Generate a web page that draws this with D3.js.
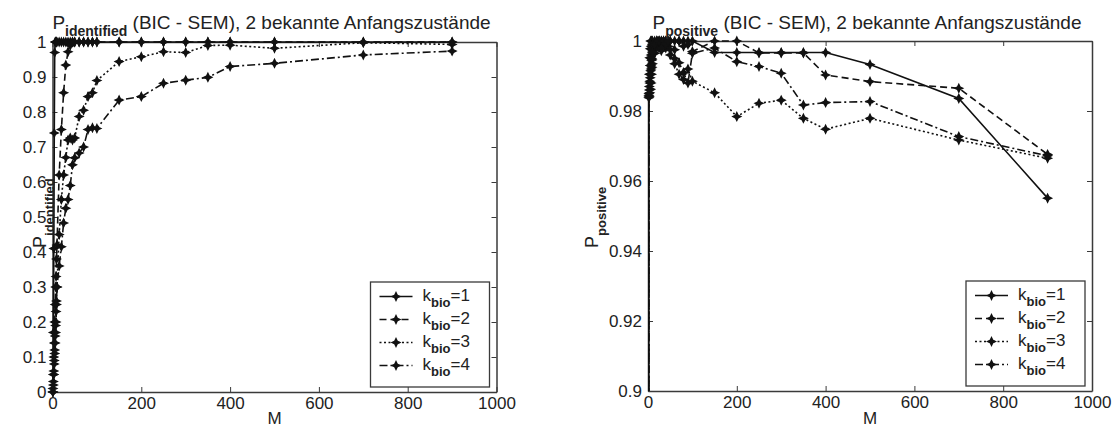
<!DOCTYPE html>
<html>
<head>
<meta charset="utf-8">
<script src="https://cdn.jsdelivr.net/npm/d3@7"></script>
<style>
  html, body { margin: 0; padding: 0; background: #fff; }
  svg { display: block; font-family: "Liberation Sans", Arial, Helvetica, sans-serif; }
  .axis path, .axis line { stroke: #3a3a3a; }
  .axis text { fill: #222; font-size: 17px; }
</style>
</head>
<body>
<svg id="chart" width="1114" height="432"></svg>
<script>
// Number of sequences M
const M = [1, 2, 3, 4, 5, 6, 7, 8, 9, 10, 15, 20, 25, 30, 35, 40, 45, 50,
           60, 70, 80, 90, 100, 150, 200, 250, 300, 350, 400, 500, 700, 900];

// P_identified per k_bio
const identK1 = [0, 0.17, 0.41, 0.74, 0.97, 1, 1, 1, 1, 1,
                 1, 1, 1, 1, 1, 1, 1, 1,
                 1, 1, 1, 1, 1,
                 1, 1, 1, 1, 1, 1, 1, 1, 1];
const identK2 = [0.01, 0.05, 0.10, 0.14, 0.20, 0.25, 0.30, 0.33, 0.38, 0.42,
                 0.62, 0.75, 0.855, 0.934, 0.972, 0.99, 1, 1,
                 1, 1, 1, 1, 1,
                 1, 1, 1, 1, 1, 1, 1, 1, 1];
const identK3 = [0, 0.03, 0.06, 0.09, 0.12, 0.16, 0.19, 0.23, 0.26, 0.30,
                 0.45, 0.55, 0.62, 0.67, 0.72, 0.726, 0.72, 0.726,
                 0.787, 0.805, 0.844, 0.855, 0.89,
                 0.944, 0.958, 0.972, 0.97, 0.99, 0.991, 0.982, 0.998, 0.993];
const identK4 = [0, 0.02, 0.05, 0.08, 0.11, 0.14, 0.17, 0.20, 0.25, 0.30,
                 0.36, 0.415, 0.483, 0.525, 0.55, 0.59, 0.649, 0.669,
                 0.683, 0.70, 0.75, 0.755, 0.753,
                 0.834, 0.844, 0.882, 0.891, 0.899, 0.93, 0.939, 0.963, 0.974];

// P_positive per k_bio
const posK1 = [0, 0.9845, 0.9905, 0.9952, 0.9978, 1, 0.9985, 1, 1, 1,
               1, 1, 1, 1, 1, 1, 1, 1,
               1, 1, 1, 1, 1,
               0.9967, 0.9967, 0.9967, 0.9967, 0.9967, 0.9967, 0.9933, 0.9836, 0.9551];
const posK2 = [0, 0.9840, 0.9870, 0.9885, 0.9930, 0.9915, 0.9960, 0.9945, 0.9975, 0.9990,
               0.9965, 1, 0.9985, 1, 1, 0.9980, 1, 1,
               0.9975, 1, 0.9985, 0.9990, 0.9970,
               1, 1, 0.9966, 0.9966, 0.9966, 0.9903, 0.9884, 0.9865, 0.9676];
const posK3 = [0, 0.9850, 0.9842, 0.9880, 0.9895, 0.9862, 0.9920, 0.9905, 0.9948, 0.9935,
               0.9965, 0.9982, 1, 0.9972, 0.9990, 1, 0.9985, 0.9960,
               0.9935, 0.9905, 0.9890, 0.9920, 0.9885,
               0.9852, 0.9784, 0.9822, 0.9831, 0.9779, 0.9748, 0.9779, 0.9717, 0.9665];
const posK4 = [0, 0.9838, 0.9860, 0.9852, 0.9905, 0.9930, 0.9880, 0.9950, 0.9925, 0.9968,
               0.9990, 1, 1, 0.9980, 1, 0.9992, 1, 0.9975,
               0.9950, 0.9938, 0.9910, 0.9880, 0.9965,
               0.9980, 0.9941, 0.9927, 0.9908, 0.9817, 0.9824, 0.9827, 0.9727, 0.9672];

const xTicks = [0, 200, 400, 600, 800, 1000];
const yTicksIdent = [0, 0.1, 0.2, 0.3, 0.4, 0.5, 0.6, 0.7, 0.8, 0.9, 1];
const yTicksPos = [0.9, 0.92, 0.94, 0.96, 0.98, 1];
const kLabels = ["1", "2", "3", "4"];
const dashes = [null, "7,4", "2,2.5", "8,3,2,3"];

const svg = d3.select("#chart");
const star = "M0,-5.5L1.8,-1.8L5.5,0L1.8,1.8L0,5.5L-1.8,1.8L-5.5,0L-1.8,-1.8Z";

function panel(cfg) {
  const { id, left, right, top, bottom, yDomain, yTicks, yFmt, series, sub, clipBottom } = cfg;
  const x = d3.scaleLinear().domain([0, 1000]).range([left, right]);
  const y = d3.scaleLinear().domain(yDomain).range([bottom, top]);
  const g = svg.append("g");

  // box axes with inward ticks
  g.append("g").attr("class", "axis").attr("transform", `translate(0,${bottom})`)
    .call(d3.axisBottom(x).tickValues(xTicks).tickSize(-5).tickSizeOuter(0).tickPadding(5)
      .tickFormat(d3.format("d")));
  g.append("g").attr("class", "axis").attr("transform", `translate(0,${top})`)
    .call(d3.axisTop(x).tickValues(xTicks).tickSize(-5).tickSizeOuter(0).tickFormat(""));
  g.append("g").attr("class", "axis").attr("transform", `translate(${left},0)`)
    .call(d3.axisLeft(y).tickValues(yTicks).tickSize(-5).tickSizeOuter(0).tickPadding(6)
      .tickFormat(yFmt));
  g.append("g").attr("class", "axis").attr("transform", `translate(${right},0)`)
    .call(d3.axisRight(y).tickValues(yTicks).tickSize(-5).tickSizeOuter(0).tickFormat(""));
  g.selectAll(".axis .domain").attr("stroke-width", 1.5);
  g.selectAll(".axis text").style("font-size", "17px");

  // clipping region for the curves
  svg.append("clipPath").attr("id", "clip" + id).append("rect")
    .attr("x", left - 7).attr("y", top - 7)
    .attr("width", right - left + 14).attr("height", clipBottom - top + 7);

  const plot = g.append("g").attr("clip-path", `url(#clip${id})`);
  const line = d3.line().x((d, i) => x(M[i])).y(d => y(d));
  series.forEach((vals, k) => {
    plot.append("path").datum(vals).attr("d", line)
      .attr("fill", "none").attr("stroke", "#111").attr("stroke-width", 1.6)
      .attr("stroke-dasharray", dashes[k]);
    plot.selectAll(null).data(vals).enter().append("path")
      .attr("d", star)
      .attr("transform", (d, i) => `translate(${x(M[i])},${y(d)})`)
      .attr("fill", "#111");
  });

  // title
  const cx = (left + right) / 2;
  const t = g.append("text").attr("x", cx - 3).attr("y", 28.5).attr("text-anchor", "middle")
    .attr("fill", "#222").style("font-size", "19px");
  t.append("tspan").text("P");
  t.append("tspan").attr("dy", 7).style("font-size", "14px").style("font-weight", "bold").text(sub);
  t.append("tspan").attr("dy", -7).text(" (BIC - SEM), 2 bekannte Anfangszustände");

  // y label
  const yl = g.append("text")
    .attr("transform", `translate(${cfg.ylabX},248) rotate(-90)`)
    .attr("fill", "#222").style("font-size", "18px");
  yl.append("tspan").text("P");
  yl.append("tspan").attr("dy", 8).style("font-size", "13px").style("font-weight", "bold").text(sub);

  // x label
  g.append("text").attr("x", cx).attr("y", 424).attr("text-anchor", "middle")
    .attr("fill", "#222").style("font-size", "17px").text("M");

  // legend
  const lx = right - 126, ly = top + 240, lw = 119, lh = bottom - 5 - ly;
  const lg = g.append("g");
  lg.append("rect").attr("x", lx).attr("y", ly).attr("width", lw).attr("height", lh)
    .attr("fill", "#fff").attr("stroke", "#3a3a3a").attr("stroke-width", 1.3);
  kLabels.forEach((lab, k) => {
    const ry = ly + 14.5 + k * 23;
    lg.append("line").attr("x1", lx + 9).attr("x2", lx + 42).attr("y1", ry).attr("y2", ry)
      .attr("stroke", "#111").attr("stroke-width", 1.6).attr("stroke-dasharray", dashes[k]);
    lg.append("path").attr("d", star).attr("transform", `translate(${lx + 25.5},${ry})`).attr("fill", "#111");
    const tx = lg.append("text").attr("x", lx + 52).attr("y", ry + 4.5)
      .attr("fill", "#222").style("font-size", "17px");
    tx.append("tspan").text("k");
    tx.append("tspan").attr("dy", 6).style("font-size", "13px").style("font-weight", "bold").text("bio");
    tx.append("tspan").attr("dy", -6).text("=" + lab);
  });
}

panel({
  id: "A", left: 52.5, right: 496.5, top: 42, bottom: 392,
  yDomain: [0, 1], yTicks: yTicksIdent,
  yFmt: d => (d === 0 ? "0" : d === 1 ? "1" : d.toFixed(1)),
  series: [identK1, identK2, identK3, identK4],
  sub: "identified", ylabX: 46, clipBottom: 399
});

panel({
  id: "B", left: 648, right: 1092, top: 41, bottom: 391,
  yDomain: [0.9, 1], yTicks: yTicksPos,
  yFmt: d => (d === 1 ? "1" : d3.format(".2~f")(d)),
  series: [posK1, posK2, posK3, posK4],
  sub: "positive", ylabX: 598, clipBottom: 391
});
</script>
</body>
</html>
